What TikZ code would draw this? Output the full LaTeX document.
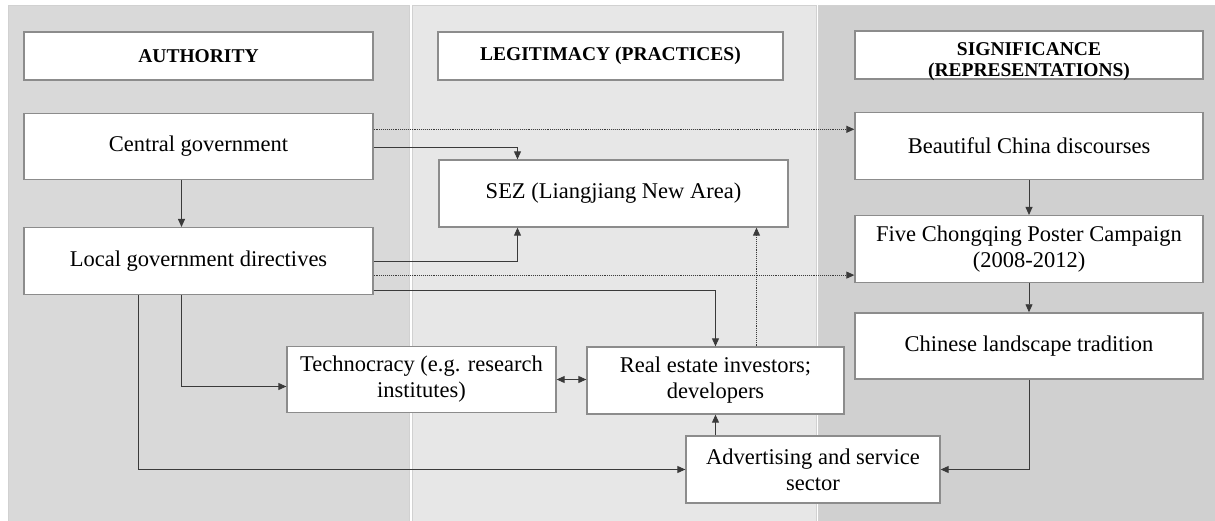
\documentclass[tikz,border=0pt]{standalone}
\usepackage{fontspec}
\setmainfont{Liberation Serif}
\usetikzlibrary{arrows.meta, positioning}
\definecolor{panelauth}{HTML}{D9D9D9}
\definecolor{panellegit}{HTML}{E7E7E7}
\definecolor{panelsig}{HTML}{D0D0D0}
\definecolor{boxline}{HTML}{8C8C8C}
\definecolor{linkline}{HTML}{3A3A3A}

\begin{document}
\begin{tikzpicture}[x=1pt, y=-1pt,
      box/.style={draw=boxline, line width=1.3pt, fill=white, align=center, inner sep=2pt,
                  font=\fontsize{22.5}{26}\selectfont},
      head/.style={box, minimum height=48pt, font=\fontsize{19.5}{21}\selectfont\bfseries},
      headtext/.style={align=center, font=\fontsize{19.5}{21}\selectfont\bfseries},
      panel/.style={draw=white!82!black, line width=0.6pt},
      arr/.style={-{Triangle[length=8pt, width=7pt]}, line width=0.9pt, draw=linkline},
      dotarr/.style={arr, densely dotted},
      twoarr/.style={{Triangle[length=8pt, width=7pt]}-{Triangle[length=8pt, width=7pt]},
                     line width=0.9pt, draw=linkline}
    ]
    \useasboundingbox (0,0) rectangle (1215,520);
    % three columns
    \path[panel, fill=panelauth]  (8,5)   rectangle (409,521);
    \path[panel, fill=panellegit] (412,5) rectangle (816,521);
    \path[panel, fill=panelsig]   (818,5) rectangle (1216,521);

    % authority
    \node[head, minimum width=349pt] (auth) at (198.5,56) {AUTHORITY};
    \node[box, minimum width=349pt, minimum height=66pt, below=32pt of auth] (central) {Central government};
    \node[box, minimum width=349pt, minimum height=67pt, below=47pt of central] (local) {Local government directives};

    % legitimacy
    \node[head, minimum width=345pt] (legit) at (610.5,56) {LEGITIMACY (PRACTICES)};
    \node[box, minimum width=349pt, minimum height=67pt] (sez) at (613.5,193.5) {SEZ (Liangjiang New Area)};
    \node[box, minimum width=269pt, minimum height=66pt] (techno) at (421.5,379.5) {Technocracy (e.g. research\\institutes)};
    \node[box, minimum width=257pt, minimum height=67pt] (realest) at (715.5,380.5) {Real estate investors;\\developers};
    \node[box, minimum width=254pt, minimum height=67pt] (advert) at (813,469.5) {Advertising and service\\sector};

    % significance
    \node[head, minimum width=348pt,
          label={[headtext, yshift=-7pt]center:SIGNIFICANCE\\(REPRESENTATIONS)}] (signif) at (1029,55) {};
    \node[box, minimum width=348pt, minimum height=67pt, below=32pt of signif] (beauty) {Beautiful China discourses};
    \node[box, minimum width=348pt, minimum height=67pt, below=35pt of beauty] (five) {Five Chongqing Poster Campaign\\(2008-2012)};
    \node[box, minimum width=348pt, minimum height=66pt, below=29pt of five] (chinese) {Chinese landscape tradition};

    % links
    \draw[dotarr] ([yshift=17pt]central.east) -- ([yshift=17pt]central.east -| beauty.west);
    \draw[arr] ([yshift=-1pt]central.east) -| ([xshift=-96pt]sez.north);
    \draw[arr] ([xshift=-17pt]central.south) -- ([xshift=-17pt]local.north);
    \draw[arr] (local.east) -| ([xshift=-96pt]sez.south);
    \draw[dotarr] ([yshift=-14pt]local.east) -- ([yshift=-14pt]local.east -| five.west);
    \draw[arr] ([yshift=-29pt]local.east) -| (realest.north);
    \draw[dotarr] ([xshift=41pt]realest.north) -- ([xshift=41pt]realest.north |- sez.south);
    \draw[arr] ([xshift=-17pt]local.south) |- ([yshift=-7pt]techno.west);
    \draw[arr] ([xshift=-60pt]local.south) |- (advert.west);
    \draw[twoarr] (techno.east) -- (techno.east -| realest.west);
    \draw[arr] (realest.south |- advert.north) -- (realest.south);
    \draw[arr] (beauty) -- (five);
    \draw[arr] (five) -- (chinese);
    \draw[arr] (chinese.south) |- (advert.east);
  \end{tikzpicture}
\end{document}
